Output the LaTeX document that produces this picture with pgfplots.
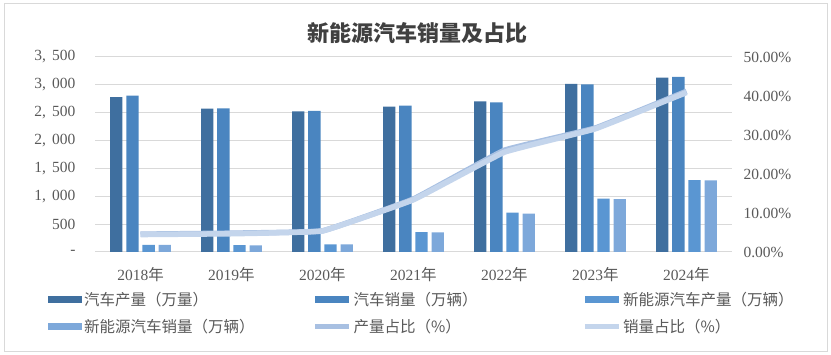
\documentclass[border=0pt]{standalone}
\usepackage{pgfplots}
\pgfplotsset{compat=1.18}
\usepackage{fontspec}
\setmainfont{Liberation Serif}
\newfontfamily\cjk{Noto Sans CJK SC}
\definecolor{barA}{HTML}{3F6F9F}
\definecolor{barB}{HTML}{4A85C0}
\definecolor{barC}{HTML}{5A96D2}
\definecolor{barD}{HTML}{7DA8DA}
\definecolor{lineA}{HTML}{A8C0E2}
\definecolor{lineB}{HTML}{C4D5EC}
\definecolor{gridgray}{HTML}{D9D9D9}
\definecolor{labelgray}{HTML}{595959}
\definecolor{titlegray}{HTML}{404040}
\begin{document}
\begin{tikzpicture}[x=1pt,y=1pt]
\useasboundingbox (0,0) rectangle (831,355);
\draw[color=gridgray, line width=1pt] (4.5,3.5) rectangle (827.5,351.5);
\node[font=\cjk\bfseries\fontsize{22}{26}\selectfont, text=titlegray] at (417,322) {新能源汽车销量及占比};
\begin{axis}[
  at={(95pt,103pt)}, anchor=south west,
  scale only axis, width=637pt, height=195pt,
  ybar, bar width=12.3pt, ybar=3.9pt,
  xmin=-0.5, xmax=6.5, ymin=0, ymax=3500,
  xtick={0,1,2,3,4,5,6},
  xticklabels={2018{\cjk 年},2019{\cjk 年},2020{\cjk 年},2021{\cjk 年},2022{\cjk 年},2023{\cjk 年},2024{\cjk 年}},
  ytick={0,500,1000,1500,2000,2500,3000,3500},
  yticklabels={{-\hspace{14pt}},{500},{1,\kern0.4em000},{1,\kern0.4em500},{2,\kern0.4em000},{2,\kern0.4em500},{3,\kern0.4em000},{3,\kern0.4em500}},
  ymajorgrids, grid style={color=gridgray, line width=1pt},
  axis line style={draw=none}, major tick style={draw=none},
  tick label style={font=\fontsize{15.5}{18}\selectfont, text=labelgray},
  yticklabel style={anchor=east, xshift=-16pt},
  xticklabel style={yshift=-8pt},
  legend columns=3,
  legend style={draw=none, fill=none, at={(axis description cs:0,0)}, anchor=north west,
    xshift=-50pt, yshift=-36pt, column sep=0pt, row sep=8pt,
    font=\fontsize{15.5}{18}\selectfont, text=labelgray},
  legend cell align=left,
  area legend,
  every axis plot/.append style={draw=none},
]
\pgfplotsset{legend image code/.code={\fill[#1] (0pt,-3.5pt) rectangle (34pt,3.5pt);}}
\addplot[fill=barA] coordinates {(0,2780.9) (1,2572.1) (2,2522.5) (3,2608.2) (4,2702.1) (5,3016.1) (6,3128.2)};
\addlegendentry{\makebox[227pt][l]{\cjk 汽车产量（万量）}}
\addplot[fill=barB] coordinates {(0,2808.1) (1,2576.9) (2,2531.1) (3,2627.5) (4,2686.4) (5,3009.4) (6,3143.6)};
\addlegendentry{\makebox[227pt][l]{\cjk 汽车销量（万辆）}}
\addplot[fill=barC] coordinates {(0,127.0) (1,124.2) (2,136.6) (3,354.5) (4,705.8) (5,958.7) (6,1288.8)};
\addlegendentry{\makebox[227pt][l]{\cjk 新能源汽车产量（万辆）}}
\addplot[fill=barD] coordinates {(0,125.6) (1,120.6) (2,136.7) (3,352.1) (4,688.7) (5,949.5) (6,1286.6)};
\addlegendentry{\makebox[227pt][l]{\cjk 新能源汽车销量（万辆）}}
\addlegendimage{legend image code/.code={\draw[lineA, line width=4.5pt] (0pt,0pt) -- (34pt,0pt);}}
\addlegendentry{\makebox[227pt][l]{\cjk 产量占比（\%）}}
\addlegendimage{legend image code/.code={\draw[lineB, line width=4.5pt] (0pt,0pt) -- (34pt,0pt);}}
\addlegendentry{\makebox[227pt][l]{\cjk 销量占比（\%）}}
\end{axis}
\begin{axis}[
  at={(95pt,103pt)}, anchor=south west,
  scale only axis, width=637pt, height=195pt,
  xmin=-0.5, xmax=6.5, ymin=0, ymax=50,
  axis x line=none, axis y line*=right,
  axis line style={draw=none}, major tick style={draw=none},
  ytick={0,10,20,30,40,50},
  yticklabels={0.00\%,10.00\%,20.00\%,30.00\%,40.00\%,50.00\%},
  tick label style={font=\fontsize{15.5}{18}\selectfont, text=labelgray},
  yticklabel style={anchor=west, xshift=8pt},
]
\addplot[lineA, line width=5.5pt, smooth, tension=0.15] coordinates {(0,4.57) (1,4.83) (2,5.42) (3,13.6) (4,26.1) (5,31.8) (6,41.2)};
\addplot[lineB, line width=5.5pt, smooth, tension=0.15] coordinates {(0,4.47) (1,4.68) (2,5.40) (3,13.4) (4,25.6) (5,31.6) (6,40.9)};
\end{axis}
\end{tikzpicture}
\end{document}
